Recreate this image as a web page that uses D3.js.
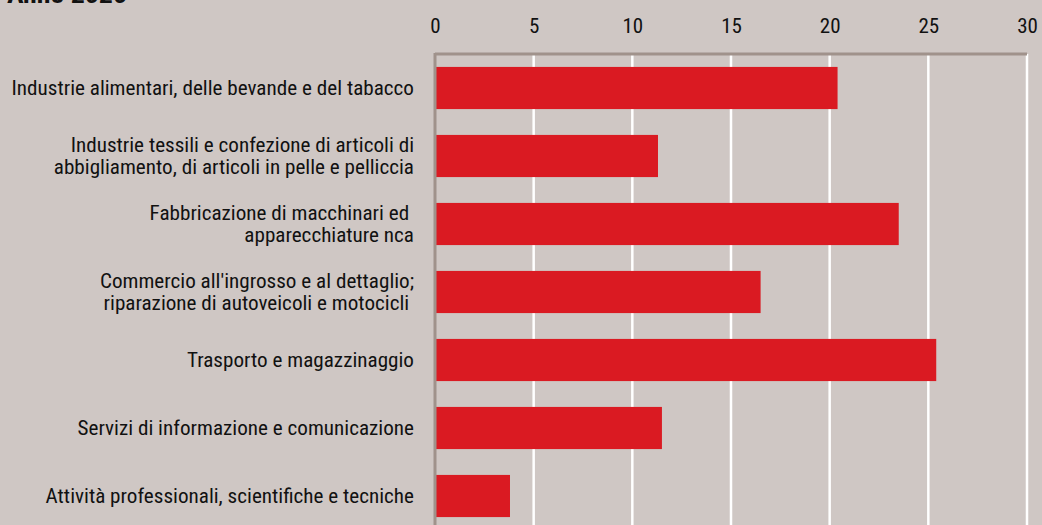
<!DOCTYPE html>
<html><head><meta charset="utf-8">
<script src="https://cdn.jsdelivr.net/npm/d3@7/dist/d3.min.js"></script>
<style>
html,body{margin:0;padding:0;background:#cfc7c4;}
svg{display:block;}
text{font-family:"Roboto Condensed","Liberation Sans Narrow","Arial Narrow",sans-serif;fill:#111;}
</style></head><body>
<svg id="c" width="1042" height="525"></svg>
<script>
const title = "Anno 2020";
const categories = [
  ["Industrie alimentari, delle bevande e del tabacco"],
  ["Industrie tessili e confezione di articoli di", "abbigliamento, di articoli in pelle e pelliccia"],
  ["Fabbricazione di macchinari ed ", "apparecchiature nca"],
  ["Commercio all'ingrosso e al dettaglio;", "riparazione di autoveicoli e motocicli "],
  ["Trasporto e magazzinaggio"],
  ["Servizi di informazione e comunicazione"],
  ["Attività professionali, scientifiche e tecniche"]
];
const values = [20.4, 11.3, 23.5, 16.5, 25.4, 11.5, 3.8];
const ticks = [0, 5, 10, 15, 20, 25, 30];

const svg = d3.select("#c");
const W = 1042, H = 525;
svg.append("rect").attr("width", W).attr("height", H).attr("fill", "#cfc7c4");

const x = d3.scaleLinear().domain([0, 30]).range([435, 1027]);
const idx = categories.map((d, i) => i);
const y = d3.scaleBand().domain(idx).range([54, 530]).paddingInner(0.38).paddingOuter(0.19);

// gridlines
svg.append("g").selectAll("line").data(ticks.filter(t => t > 0)).join("line")
  .attr("x1", d => x(d)).attr("x2", d => x(d)).attr("y1", 54).attr("y2", H)
  .attr("stroke", "#ffffff").attr("stroke-width", 2.5);

// bars
svg.append("g").selectAll("rect").data(values).join("rect")
  .attr("x", x(0)).attr("y", (d, i) => y(i)).attr("height", y.bandwidth())
  .attr("width", d => x(d) - x(0)).attr("fill", "#da1a22");

// axes lines
svg.append("line").attr("x1", x(0)).attr("x2", x(30)).attr("y1", 54).attr("y2", 54)
  .attr("stroke", "#a0928b").attr("stroke-width", 3);
svg.append("line").attr("x1", x(0)).attr("x2", x(0)).attr("y1", 53).attr("y2", H)
  .attr("stroke", "#a0928b").attr("stroke-width", 3);

// top axis tick labels
const xa = d3.axisTop(x).tickValues(ticks).tickSize(0).tickPadding(0).tickFormat(d3.format("d"));
const gx = svg.append("g").attr("transform", "translate(0,33)").call(xa);
gx.select(".domain").remove();
gx.selectAll("text").attr("font-size", 21).attr("fill", "#111")
  .attr("font-family", '"Roboto Condensed","Liberation Sans Narrow",sans-serif');

// category labels
const lab = svg.append("g").selectAll("text").data(categories).join("text")
  .attr("text-anchor", "end").attr("font-size", 20).attr("xml:space", "preserve")
  .attr("transform", (d, i) => `translate(414,${y(i) + y.bandwidth() / 2}) scale(1.058,1)`);
lab.each(function(lines) {
  const t = d3.select(this);
  const lh = 23;
  const off = -(lines.length - 1) * lh / 2;
  lines.forEach((l, j) => {
    t.append("tspan").attr("x", 0).attr("y", off + j * lh).attr("dy", "0.35em").text(l);
  });
});

// title (cut off at top, as in the reference)
svg.append("text").attr("x", 7).attr("y", 3).attr("font-size", 24).attr("font-weight", "bold")
  .attr("textLength", 120).attr("lengthAdjust", "spacingAndGlyphs").text(title);
</script>
</body></html>
